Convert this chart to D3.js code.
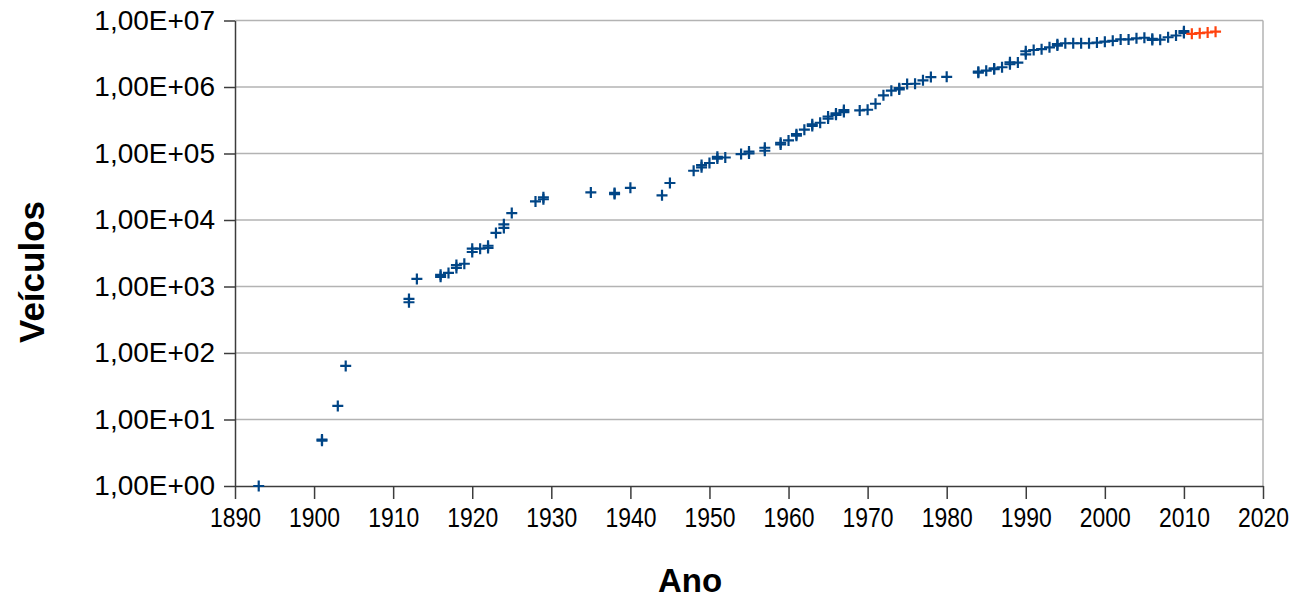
<!DOCTYPE html>
<html>
<head>
<meta charset="utf-8">
<script src="https://cdnjs.cloudflare.com/ajax/libs/d3/7.8.5/d3.min.js"></script>
<style>
  html, body { margin: 0; padding: 0; background: #fff; }
  svg { display: block; }
  text { font-family: "Liberation Sans", Arial, sans-serif; fill: #000; }
</style>
</head>
<body>
<svg id="chart" width="1301" height="600"></svg>
<script>
// ---- data ----
const blueYears = [
  1893, 1901, 1901, 1903, 1904,
  1912, 1912, 1913, 1916, 1916, 1917, 1918, 1918, 1919, 1920, 1920, 1921, 1922, 1922, 1923, 1924, 1924, 1925,
  1928, 1929, 1929, 1935, 1938, 1938, 1940, 1944, 1945,
  1948, 1949, 1949, 1950, 1951, 1951, 1952, 1954, 1955, 1955, 1957, 1957, 1959, 1959,
  1960, 1961, 1961, 1962, 1963, 1963, 1964, 1965, 1965, 1966, 1966, 1967, 1967, 1969,
  1970, 1971, 1972, 1973, 1974, 1974, 1975, 1976, 1977, 1978, 1980,
  1984, 1984, 1985, 1986, 1986, 1987, 1988, 1988, 1989,
  1990, 1990, 1991, 1992, 1993, 1994, 1994, 1995, 1996, 1997, 1998, 1999,
  2000, 2001, 2002, 2003, 2004, 2005, 2006, 2006, 2007, 2008, 2009, 2010, 2010
];
const blueValues = [
  1, 5, 4.8, 16, 64,
  580, 650, 1300, 1400, 1500, 1600, 1900, 2100, 2200, 3300, 3700, 3700, 3800, 4100, 6400, 7600, 8600, 12700,
  19000, 20500, 22000, 26000, 24500, 25500, 30500, 23500, 36000,
  55000, 62000, 67000, 72000, 84000, 89000, 87000, 98000, 100000, 107000, 110000, 122000, 137000, 145000,
  157000, 185000, 195000, 228000, 260000, 275000, 290000, 335000, 360000, 382000, 400000, 420000, 450000, 445000,
  455000, 560000, 750000, 880000, 920000, 960000, 1110000, 1120000, 1260000, 1410000, 1420000,
  1640000, 1700000, 1760000, 1850000, 1900000, 1980000, 2200000, 2350000, 2330000,
  3100000, 3450000, 3600000, 3700000, 3950000, 4200000, 4400000, 4550000, 4550000, 4550000, 4550000, 4650000,
  4800000, 4950000, 5200000, 5200000, 5400000, 5500000, 5100000, 5300000, 5150000, 5600000, 5950000, 6500000, 6900000
];
const orangeYears  = [2011, 2012, 2013, 2014];
const orangeValues = [6300000, 6450000, 6600000, 6800000];

const xTickValues = [1890, 1900, 1910, 1920, 1930, 1940, 1950, 1960, 1970, 1980, 1990, 2000, 2010, 2020];
const yTickValues = [1, 10, 100, 1000, 10000, 100000, 1000000, 10000000];
const yTickLabels = ["1,00E+00", "1,00E+01", "1,00E+02", "1,00E+03", "1,00E+04", "1,00E+05", "1,00E+06", "1,00E+07"];

const xTitle = "Ano";
const yTitle = "Veículos";

// ---- layout ----
const plotLeft = 235, plotRight = 1263, plotTop = 20.5, plotBottom = 486;
const svg = d3.select("#chart");

const x = d3.scaleLinear().domain([1890, 2020]).range([plotLeft, plotRight]);
const y = d3.scaleLog().domain([1, 10000000]).range([plotBottom, plotTop]);

// horizontal grid lines
svg.append("g")
  .selectAll("line")
  .data(yTickValues.slice(1))
  .join("line")
  .attr("x1", plotLeft).attr("x2", plotRight)
  .attr("y1", d => y(d)).attr("y2", d => y(d))
  .attr("stroke", "#b3b3b3").attr("stroke-width", 1.5);

// right border
svg.append("line")
  .attr("x1", plotRight).attr("x2", plotRight).attr("y1", plotTop).attr("y2", plotBottom)
  .attr("stroke", "#b3b3b3").attr("stroke-width", 1.5);

// y axis
const yAxis = d3.axisLeft(y)
  .tickValues(yTickValues)
  .tickFormat((d, i) => yTickLabels[i])
  .tickSize(11).tickPadding(9).tickSizeOuter(0);
const gy = svg.append("g").attr("transform", `translate(${plotLeft},0)`).call(yAxis);
gy.select(".domain").attr("stroke", "#3c3c3c").attr("stroke-width", 1.5);
gy.selectAll(".tick line").attr("stroke", "#3c3c3c").attr("stroke-width", 1.5);
gy.selectAll(".tick text").attr("font-size", 28).attr("fill", "#1a1a1a")
  .attr("font-family", "Liberation Sans, Arial, sans-serif");

// x axis
const xAxis = d3.axisBottom(x)
  .tickValues(xTickValues)
  .tickFormat(d3.format("d"))
  .tickSize(13).tickPadding(9).tickSizeOuter(0);
const gx = svg.append("g").attr("transform", `translate(0,${plotBottom})`).call(xAxis);
gx.select(".domain").attr("stroke", "#3c3c3c").attr("stroke-width", 1.5);
gx.selectAll(".tick line").attr("stroke", "#3c3c3c").attr("stroke-width", 1.5);
gx.selectAll(".tick text").attr("font-size", 27).attr("fill", "#1a1a1a")
  .attr("font-family", "Liberation Sans, Arial, sans-serif")
  .attr("textLength", 51).attr("lengthAdjust", "spacingAndGlyphs");

// markers
function crosses(years, values, color) {
  const pts = years.map((yr, i) => [yr, values[i]]);
  const s = 5.5;
  svg.append("g")
    .selectAll("path")
    .data(pts)
    .join("path")
    .attr("d", d => {
      const cx = x(d[0]), cy = y(d[1]);
      return `M${cx - s},${cy}H${cx + s}M${cx},${cy - s}V${cy + s}`;
    })
    .attr("stroke", color)
    .attr("stroke-width", 2.2)
    .attr("fill", "none");
}
crosses(blueYears, blueValues, "#004586");
crosses(orangeYears, orangeValues, "#ff420e");

// titles
svg.append("text")
  .attr("x", 690).attr("y", 592)
  .attr("text-anchor", "middle")
  .attr("font-size", 33).attr("font-weight", "bold")
  .text(xTitle);

svg.append("text")
  .attr("transform", "translate(44,272) rotate(-90)")
  .attr("text-anchor", "middle")
  .attr("font-size", 35).attr("font-weight", "bold")
  .text(yTitle);
</script>
</body>
</html>
